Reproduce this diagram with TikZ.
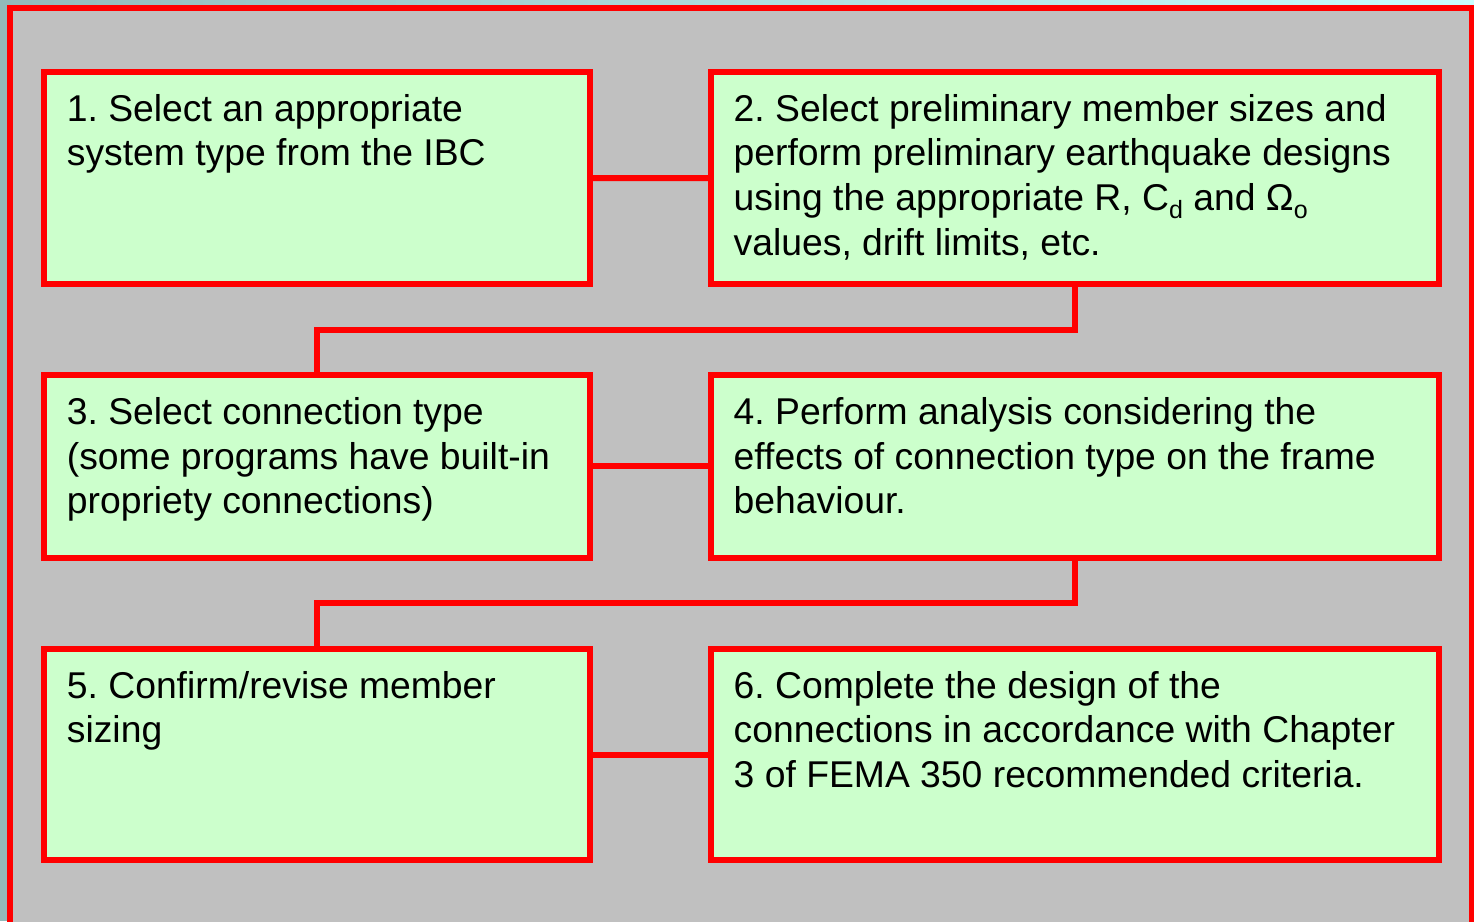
\documentclass[tikz,border=0pt]{standalone}
\usepackage{fontspec}
\setmainfont{Liberation Sans}
\usetikzlibrary{calc}
\frenchspacing
\definecolor{outerbg}{RGB}{146,186,186}
\definecolor{outerbgr}{RGB}{200,255,255}
\definecolor{panelgray}{RGB}{192,192,192}
\definecolor{boxgreen}{RGB}{204,255,204}
\definecolor{linered}{RGB}{255,0,0}
\tikzset{
  stepbox/.style={draw=linered, line width=6pt, fill=boxgreen, inner sep=0pt, outer sep=0pt, rectangle},
  conn/.style={draw=linered, line width=6pt, line cap=butt},
  steptext/.style={anchor=north west, inner sep=0pt, align=left, font=\frenchspacing\fontsize{37.3}{44.7}\selectfont, text=black},
}
\newcommand{\fl}{\rule{0pt}{30pt}}
\newcommand{\mysub}[1]{\raisebox{-7.5pt}{\fontsize{25}{25}\selectfont #1}}
\begin{document}
\begin{tikzpicture}[x=1pt, y=-1pt]
\useasboundingbox (0,0) rectangle (1474,921);
\clip (0,0) rectangle (1474,921);
\fill[outerbg] (0,0) rectangle (1474,921);
\shade[left color=outerbg, right color=outerbgr] (0,0) rectangle (1474,6);
\filldraw[fill=panelgray, draw=linered, line width=6pt] (10.3,8) rectangle (1472.3,960);

% boxes
\node[stepbox, minimum width=546pt, minimum height=212pt] (b1) at (316.7,178) {};
\node[stepbox, minimum width=728pt, minimum height=212.5pt] (b2) at (1075,178.2) {};
\node[stepbox, minimum width=546pt, minimum height=182.2pt] (b3) at (316.7,466.4) {};
\node[stepbox, minimum width=728pt, minimum height=182.2pt] (b4) at (1075,466.4) {};
\node[stepbox, minimum width=546pt, minimum height=211.5pt] (b5) at (316.7,754.7) {};
\node[stepbox, minimum width=728pt, minimum height=211.5pt] (b6) at (1075,754.7) {};

% connectors
\coordinate (j1) at (1075,329.5);
\coordinate (j2) at (316.7,329.5);
\coordinate (j3) at (1075,603);
\coordinate (j4) at (316.7,603);
\draw[conn, line join=miter] (b1.east) -- (b2.west);
\draw[conn, line join=miter] (b2.south) -- (j1) -- (j2) -- (b3.north);
\draw[conn, line join=miter] (b3.east) -- (b4.west);
\draw[conn, line join=miter] (b4.south) -- (j3) -- (j4) -- (b5.north);
\draw[conn, line join=miter] (b5.east) -- (b6.west);

% redraw box borders on top of connector ends
\foreach \b in {b1,b2,b3,b4,b5,b6}{
  \draw[linered, line width=6pt] (\b.north west) rectangle (\b.south east);
}

% texts
\node[steptext] (t1) at ($(b1.north west)+(23,19)$) {\fl 1. Select an appropriate\\system type from the IBC};
\node[steptext] (t2) at ($(b2.north west)+(22.5,19)$) {\fl 2. Select preliminary member sizes and\\perform preliminary earthquake designs\\using the appropriate R, C\mysub{d} and Ω\mysub{o}\\values, drift limits, etc.};
\node[steptext] (t3) at ($(b3.north west)+(23,19)$) {\fl 3. Select connection type\\(some programs have built-in\\propriety connections)};
\node[steptext] (t4) at ($(b4.north west)+(22.5,19)$) {\fl 4. Perform analysis considering the\\effects of connection type on the frame\\behaviour.};
\node[steptext] (t5) at ($(b5.north west)+(23,19)$) {\fl 5. Confirm/revise member\\sizing};
\node[steptext] (t6) at ($(b6.north west)+(22.5,19)$) {\fl 6. Complete the design of the\\connections in accordance with Chapter\\3 of FEMA 350 recommended criteria.};
\end{tikzpicture}
\end{document}
